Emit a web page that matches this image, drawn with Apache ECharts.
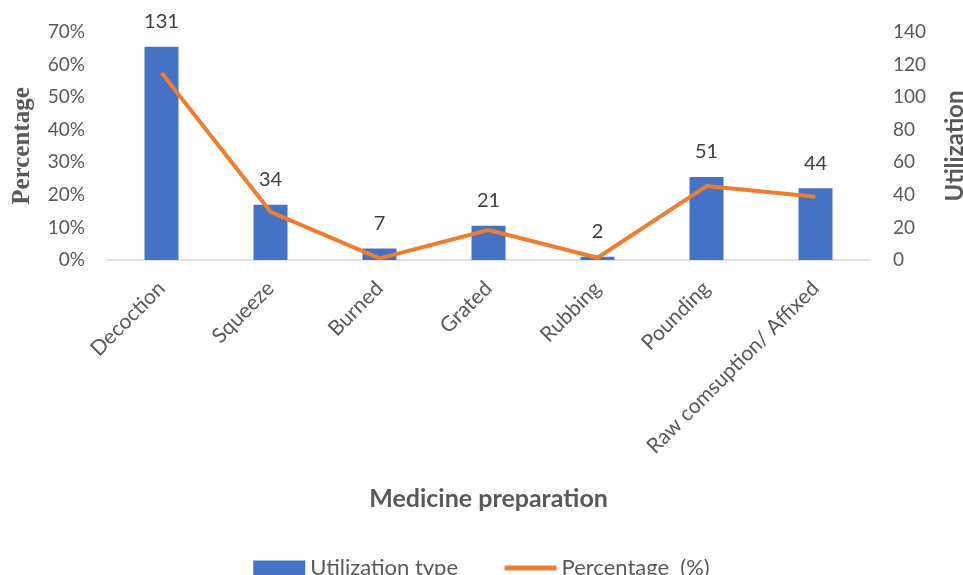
<!DOCTYPE html>
<html>
<head>
<meta charset="utf-8">
<script src="https://cdn.jsdelivr.net/npm/echarts@6/dist/echarts.min.js"></script>
<style>
  html, body { margin: 0; padding: 0; background: #fff; }
  #chart { width: 963px; height: 575px; }
</style>
</head>
<body>
<div id="chart"></div>
<script>
// Preparation methods and their counts
const categories = ['Decoction', 'Squeeze', 'Burned', 'Grated', 'Rubbing', 'Pounding', 'Raw comsuption/ Affixed'];
const utilization = [131, 34, 7, 21, 2, 51, 44];
const percentage = [57.5, 14.8, 0.5, 9.2, 0.7, 22.7, 19.4];
const percentTicks = { min: 0, max: 70, step: 10 };
const countTicks = { min: 0, max: 140, step: 20 };

const textColor = '#595959';
const baseFont = 'Lato, "Open Sans", sans-serif';

const chart = echarts.init(document.getElementById('chart'));
chart.setOption({
  animation: false,
  textStyle: { fontFamily: baseFont },
  grid: { left: 107, right: 93, top: 32, bottom: 315, containLabel: false, outerBoundsMode: 'none' },
  legend: {
    top: 552,
    left: 'center',
    itemGap: 44,
    itemWidth: 52,
    itemHeight: 15,
    textStyle: { fontSize: 22, color: textColor, fontFamily: baseFont },
    data: [
      { name: 'Utilization type', icon: 'rect' },
      { name: 'Percentage  (%)', itemStyle: { opacity: 0 }, lineStyle: { width: 5, color: '#ED7D31' } }
    ]
  },
  xAxis: {
    type: 'category',
    data: categories,
    name: 'Medicine preparation',
    nameLocation: 'middle',
    nameGap: 226,
    nameTextStyle: { fontSize: 25, fontWeight: 'bold', color: textColor, fontFamily: baseFont },
    axisLine: { lineStyle: { color: '#d9d9d9', width: 1.5 } },
    axisTick: { show: false },
    axisLabel: { rotate: 45, fontSize: 21, color: textColor, margin: 25, interval: 0 }
  },
  yAxis: [
    {
      type: 'value',
      min: percentTicks.min,
      max: percentTicks.max,
      interval: percentTicks.step,
      name: 'Percentage',
      nameLocation: 'middle',
      nameGap: 72,
      nameTextStyle: { fontSize: 25, fontWeight: 'bold', color: textColor, fontFamily: '"Liberation Serif", "DejaVu Serif", serif' },
      axisLine: { show: false },
      axisTick: { show: false },
      splitLine: { show: false },
      axisLabel: { formatter: '{value}%', fontSize: 19, color: textColor, margin: 22 }
    },
    {
      type: 'value',
      min: countTicks.min,
      max: countTicks.max,
      interval: countTicks.step,
      name: 'Utilization',
      nameLocation: 'middle',
      nameGap: 73,
      nameTextStyle: { fontSize: 24, fontWeight: 'bold', color: textColor, fontFamily: baseFont },
      axisLine: { show: false },
      axisTick: { show: false },
      splitLine: { show: false },
      axisLabel: { fontSize: 19, color: textColor, margin: 23 }
    }
  ],
  series: [
    {
      name: 'Utilization type',
      type: 'bar',
      yAxisIndex: 1,
      data: utilization,
      barWidth: 34,
      itemStyle: { color: '#4472C4' },
      label: { show: true, position: 'top', distance: 15, fontSize: 20, color: '#404040' }
    },
    {
      name: 'Percentage  (%)',
      type: 'line',
      yAxisIndex: 0,
      data: percentage,
      symbol: 'none',
      lineStyle: { color: '#ED7D31', width: 4 },
      itemStyle: { color: '#ED7D31' }
    }
  ]
});
</script>
</body>
</html>
